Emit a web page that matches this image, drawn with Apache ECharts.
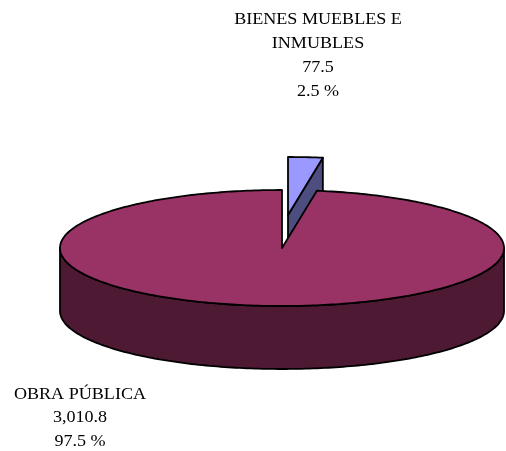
<!DOCTYPE html>
<html>
<head>
<meta charset="utf-8">
<script src="https://cdn.jsdelivr.net/npm/echarts@6/dist/echarts.min.js"></script>
<style>
  html, body { margin: 0; padding: 0; background: #fff; }
  #chart { width: 506px; height: 451px; }
</style>
</head>
<body>
<div id="chart"></div>
<script>
var categories = ['BIENES MUEBLES E INMUBLES', 'OBRA PÚBLICA']
var labelNames = [['BIENES MUEBLES E', 'INMUBLES'], ['OBRA PÚBLICA']]
var values = [77.5, 3010.8]

var topColors = ['#9999FF', '#993366']
var sideColors = ['#4D4D80', '#4D1933']

// pie geometry in pixels (3D look: ellipse top + extruded side)
var cx = 282, cy = 248, rx = 222, ry = 58, depth = 63
var explode = [[6, -33], [0, 0]]
var labelPos = [[318, 8, 24], [80, 383, 23.5]]

var total = values.reduce(function (s, v) { return s + v }, 0)

function pt(a, ox, oy, dy) {
  return [cx + ox + rx * Math.sin(a), cy + oy - ry * Math.cos(a) + (dy || 0)]
}
function arc(a0, a1, ox, oy, dy) {
  var n = Math.max(2, Math.ceil(Math.abs(a1 - a0) / (Math.PI / 180)))
  var p = []
  for (var i = 0; i <= n; i++) p.push(pt(a0 + (a1 - a0) * i / n, ox, oy, dy))
  return p
}

function renderItem(params, api) {
  var idx = params.dataIndex
  var before = 0
  for (var k = 0; k < idx; k++) before += values[k]
  var a0 = before / total * Math.PI * 2
  var a1 = (before + api.value(0)) / total * Math.PI * 2
  var ox = explode[idx][0], oy = explode[idx][1]
  var c = [cx + ox, cy + oy]
  var line = { stroke: '#000', lineWidth: 1.8, lineJoin: 'round' }
  var children = []

  // front side wall
  var s = Math.max(a0, Math.PI / 2), e = Math.min(a1, Math.PI * 1.5)
  if (s < e) {
    children.push({
      type: 'polygon',
      shape: { points: arc(s, e, ox, oy, 0).concat(arc(e, s, ox, oy, depth)) },
      style: Object.assign({ fill: sideColors[idx] }, line)
    })
  }
  // cut faces
  function face(a) {
    var p = pt(a, ox, oy, 0)
    return {
      type: 'polygon',
      shape: { points: [c, p, [p[0], p[1] + depth], [c[0], c[1] + depth]] },
      style: Object.assign({ fill: sideColors[idx] }, line)
    }
  }
  if (Math.sin(a0) < -1e-6) children.push(face(a0))
  if (Math.sin(a1) > 1e-6) children.push(face(a1))
  // top
  children.push({
    type: 'polygon',
    shape: { points: [c].concat(arc(a0, a1, ox, oy, 0)) },
    style: Object.assign({ fill: topColors[idx] }, line)
  })
  // label
  var v = api.value(0)
  var txt = labelNames[idx].concat([
    v.toLocaleString('en-US', { minimumFractionDigits: 1, maximumFractionDigits: 1 }),
    (v / total * 100).toFixed(1) + ' %'
  ]).join('\n')
  children.push({
    type: 'text',
    x: labelPos[idx][0],
    y: labelPos[idx][1],
    scaleX: 1.13,
    style: {
      text: txt,
      fill: '#000',
      fontFamily: 'Liberation Serif',
      fontSize: 16,
      lineHeight: labelPos[idx][2],
      align: 'center',
      verticalAlign: 'top'
    }
  })
  return { type: 'group', children: children }
}

var chart = echarts.init(document.getElementById('chart'))
chart.setOption({
  animation: false,
  backgroundColor: '#fff',
  series: [{
    type: 'custom',
    coordinateSystem: 'none',
    renderItem: renderItem,
    data: values.map(function (v, i) { return { name: categories[i], value: [v] } })
  }]
})
</script>
</body>
</html>
